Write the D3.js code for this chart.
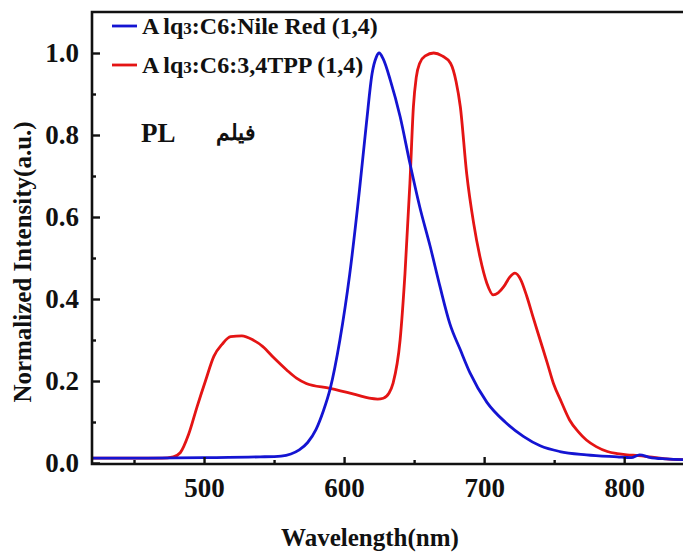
<!DOCTYPE html>
<html>
<head>
<meta charset="utf-8">
<script src="https://cdn.jsdelivr.net/npm/d3@7"></script>
<style>
  html, body { margin: 0; padding: 0; background: #fff; }
  svg { display: block; }
  text { font-family: "Liberation Serif", "Times New Roman", serif; font-weight: bold; fill: #111; }
</style>
</head>
<body>
<svg id="chart" width="683" height="554"></svg>
<script>
// Photoluminescence spectra (normalized) of the two films
const nileWavelength = [420, 460, 500, 540, 555, 562, 568, 574, 580, 585, 590, 597, 604, 611, 616, 620, 623, 625, 628, 633, 640, 647, 654, 661.5, 668.5, 675.5, 683, 690, 702, 715, 728, 740, 754, 773, 795, 805, 811, 818, 830, 843];
const nileIntensity  = [0.012, 0.012, 0.013, 0.015, 0.017, 0.022, 0.032, 0.05, 0.082, 0.125, 0.18, 0.30, 0.46, 0.666, 0.83, 0.95, 0.99, 1.0, 0.985, 0.934, 0.845, 0.731, 0.625, 0.528, 0.43, 0.34, 0.276, 0.219, 0.148, 0.100, 0.065, 0.042, 0.028, 0.02, 0.015, 0.013, 0.02, 0.014, 0.01, 0.008];

const tppWavelength = [420, 470, 478, 483, 489, 495, 501, 507, 513, 519, 527, 535, 542, 550, 559, 566, 573, 590, 609, 618, 624, 628, 632, 635, 640, 643.5, 647, 649.5, 651.5, 654, 658, 664, 670, 676, 680, 683, 687.5, 692.5, 697, 702, 706.5, 710, 714, 718, 722, 726, 730.5, 735, 740, 745, 749.5, 755, 761, 767, 773, 780, 788, 795, 802, 810, 818, 830, 843];
const tppIntensity  = [0.012, 0.012, 0.015, 0.025, 0.07, 0.137, 0.20, 0.26, 0.29, 0.308, 0.31, 0.30, 0.284, 0.256, 0.227, 0.207, 0.194, 0.182, 0.166, 0.158, 0.156, 0.158, 0.170, 0.195, 0.30, 0.463, 0.682, 0.869, 0.94, 0.975, 0.993, 1.0, 0.993, 0.975, 0.93, 0.869, 0.707, 0.585, 0.503, 0.438, 0.41, 0.415, 0.43, 0.452, 0.463, 0.448, 0.406, 0.355, 0.30, 0.245, 0.194, 0.15, 0.105, 0.077, 0.056, 0.04, 0.028, 0.023, 0.02, 0.018, 0.015, 0.01, 0.008];

const seriesNames  = ["Nile Red (1,4)", "3,4TPP (1,4)"];
const seriesColors = ["#1414d2", "#e41414"];

const xMajorTicks = [500, 600, 700, 800];
const xMinorTicks = [450, 550, 650, 750];
const yMajorTicks = [0, 0.2, 0.4, 0.6, 0.8, 1.0];
const yMinorTicks = [0.1, 0.3, 0.5, 0.7, 0.9];

const xTitle = "Wavelength(nm)";
const yTitle = "Normalized Intensity(a.u.)";
const noteLatin = "PL";
const noteFarsi = "فیلم";

const svg = d3.select("#chart");
const plotLeft = 92, plotRight = 683, plotTop = 12, plotBottom = 463;

const x = d3.scaleLinear().domain([420, 842]).range([plotLeft, plotRight]);
const y = d3.scaleLinear().domain([0, 1.1]).range([plotBottom, plotTop]);

svg.append("defs").append("clipPath").attr("id", "plotClip")
  .append("rect").attr("x", plotLeft).attr("y", plotTop)
  .attr("width", plotRight - plotLeft).attr("height", plotBottom - plotTop + 2);

// spectra
const line = d3.line().x(d => x(d[0])).y(d => y(d[1])).curve(d3.curveMonotoneX);
const series = [
  d3.zip(nileWavelength, nileIntensity),
  d3.zip(tppWavelength, tppIntensity)
];
const plot = svg.append("g").attr("clip-path", "url(#plotClip)");
// red drawn first so the blue trace sits over it along the baseline
[1, 0].forEach(i => {
  plot.append("path").datum(series[i])
    .attr("fill", "none")
    .attr("stroke", seriesColors[i])
    .attr("stroke-width", 2.8)
    .attr("stroke-linejoin", "round")
    .attr("d", line);
});

// axes: ticks point inward
const fontTick = 27;
svg.append("g").attr("transform", `translate(0,${plotBottom + 1})`)
  .call(d3.axisBottom(x).tickValues(xMajorTicks).tickSize(-7).tickPadding(14).tickFormat(d3.format("d")));
svg.append("g").attr("transform", `translate(0,${plotBottom + 1})`)
  .call(d3.axisBottom(x).tickValues(xMinorTicks).tickSize(-4).tickFormat(""));
svg.append("g").attr("transform", `translate(${plotLeft},0)`)
  .call(d3.axisLeft(y).tickValues(yMajorTicks).tickSize(-8).tickPadding(13).tickFormat(d3.format(".1f")));
svg.append("g").attr("transform", `translate(${plotLeft},0)`)
  .call(d3.axisLeft(y).tickValues(yMinorTicks).tickSize(-4).tickFormat(""));

svg.selectAll(".domain").remove();
svg.selectAll(".tick line").attr("stroke", "#111").attr("stroke-width", 2.4);
svg.selectAll(".tick text").attr("font-size", fontTick)
  .attr("font-family", "Liberation Serif, serif").attr("font-weight", "bold").attr("fill", "#111");

// frame: left, bottom, top (right edge runs off the page)
svg.append("path")
  .attr("d", `M${plotRight + 2},${plotTop} H${plotLeft} V${plotBottom + 1} H${plotRight + 2}`)
  .attr("fill", "none").attr("stroke", "#111").attr("stroke-width", 2.6);

// axis titles
svg.append("text").attr("x", 370).attr("y", 546).attr("text-anchor", "middle")
  .attr("font-size", 25).text(xTitle);
svg.append("text").attr("transform", "translate(31,262) rotate(-90)").attr("text-anchor", "middle")
  .attr("font-size", 25).text(yTitle);

// legend
const legendRows = [26, 65];
seriesNames.forEach((name, i) => {
  const ly = legendRows[i];
  svg.append("line").attr("x1", 112).attr("x2", 137).attr("y1", ly).attr("y2", ly)
    .attr("stroke", seriesColors[i]).attr("stroke-width", 2.8);
  const t = svg.append("text").attr("x", 142).attr("y", ly + 8).attr("font-size", 24);
  t.append("tspan").text("A");
  t.append("tspan").attr("dx", 4).text("lq");
  t.append("tspan").attr("font-size", 17).text("3");
  t.append("tspan").text(":C6:" + name);
});

// film label
svg.append("text").attr("x", 141).attr("y", 142).attr("font-size", 27).text(noteLatin);
svg.append("text").attr("x", 236).attr("y", 140).attr("text-anchor", "middle")
  .attr("font-size", 22).attr("font-family", "DejaVu Sans, sans-serif").attr("font-weight", "bold")
  .text(noteFarsi);
</script>
</body>
</html>
